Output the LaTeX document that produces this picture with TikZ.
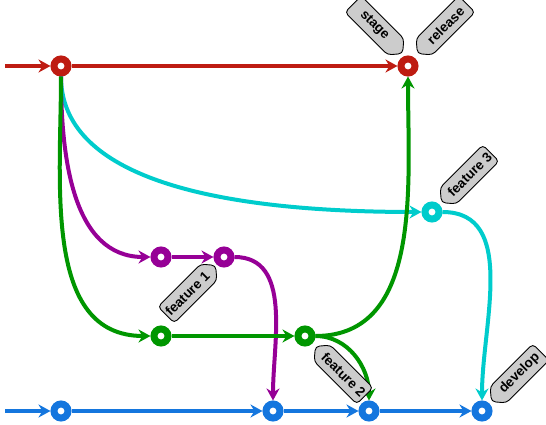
\documentclass[tikz,border=0pt]{standalone}
\usepackage{fontspec}
\setmainfont{Liberation Sans}
\usetikzlibrary{arrows.meta,shapes.symbols}
\definecolor{relred}{RGB}{190,28,18}
\definecolor{featcyan}{RGB}{0,204,204}
\definecolor{featpurple}{RGB}{150,0,150}
\definecolor{featgreen}{RGB}{0,150,0}
\definecolor{devblue}{RGB}{20,118,222}
\definecolor{taggray}{RGB}{204,204,204}
\tikzset{
  commit/.style={circle,draw=#1,fill=white,line width=7pt,minimum size=14pt,inner sep=0pt},
  branch/.style={draw=#1,line width=4pt,-{Stealth[length=12pt,width=13pt]}},
  tag/.style={shape=signal,signal to=#1,signal pointer angle=100,draw=black,line width=0.9pt,
    fill=taggray,rounded corners=4pt,minimum width=70pt,minimum height=23pt,inner sep=1pt,
    font=\bfseries\fontsize{13.5}{13.5}\selectfont},
}
\begin{document}
\begin{tikzpicture}[x=1pt,y=-1pt]
  \useasboundingbox (0,0) rectangle (546,425);
  \pgfmathsetmacro{\yrel}{66}
  \pgfmathsetmacro{\ydev}{411}
  % commits
  \node[commit=relred] (rel0) at (61,\yrel) {};
  \node[commit=relred] (rel1) at (408,\yrel) {};
  \node[commit=featcyan] (feat3) at (432,212) {};
  \node[commit=featpurple] (feat1a) at (161,257) {};
  \node[commit=featpurple] (feat1b) at (224,257) {};
  \node[commit=featgreen] (feat2a) at (161,336) {};
  \node[commit=featgreen] (feat2b) at (305,336) {};
  \node[commit=devblue] (dev1) at (61,\ydev) {};
  \node[commit=devblue] (dev2) at (273,\ydev) {};
  \node[commit=devblue] (dev3) at (369,\ydev) {};
  \node[commit=devblue] (dev4) at (482,\ydev) {};
  \coordinate (relin) at (5,\yrel);
  \coordinate (devin) at (5,\ydev);

  % branches
  \draw[branch=relred] (relin) -- (rel0);
  \draw[branch=relred] (rel0) -- (rel1);
  \draw[branch=featcyan] (rel0) .. controls +(0,100) and +(-250,0) .. (feat3);
  \draw[branch=featpurple] (rel0) to[out=-90,in=180] (feat1a);
  \draw[branch=featgreen] (rel0) to[out=-90,in=180] (feat2a);
  \draw[branch=featpurple] (feat1a) -- (feat1b);
  \draw[branch=featpurple] (feat1b) to[out=0,in=90] (dev2);
  \draw[branch=featgreen] (feat2a) -- (feat2b);
  \draw[branch=featgreen] (feat2b) to[out=0,in=-90] (rel1);
  \draw[branch=featgreen] (feat2b) to[out=0,in=90] (dev3);
  \draw[branch=featcyan] (feat3) to[out=0,in=90] (dev4);
  \draw[branch=devblue] (devin) -- (dev1);
  \foreach \a/\b in {dev1/dev2,dev2/dev3,dev3/dev4}
    \draw[branch=devblue] (\a) -- (\b);

  % tags
  \node[tag=east,rotate=-45,anchor=east] (tagstage) at ([shift={(-5,-12)}]rel1) {stage};
  \node[tag=west,rotate=45,anchor=west] (tagrelease) at ([shift={(9,-12)}]rel1) {release};
  \node[tag=east,rotate=45,anchor=east] (tagfeat1) at ([shift={(-8,8)}]feat1b) {feature 1};
  \node[tag=west,rotate=-45,anchor=west] (tagfeat2) at ([shift={(10,10)}]feat2b) {feature 2};
  \node[tag=west,rotate=45,anchor=west] (tagfeat3) at ([shift={(9,-9)}]feat3) {feature 3};
  \node[tag=west,rotate=45,anchor=west] (tagdev) at ([shift={(9,-9)}]dev4) {develop};
\end{tikzpicture}
\end{document}
